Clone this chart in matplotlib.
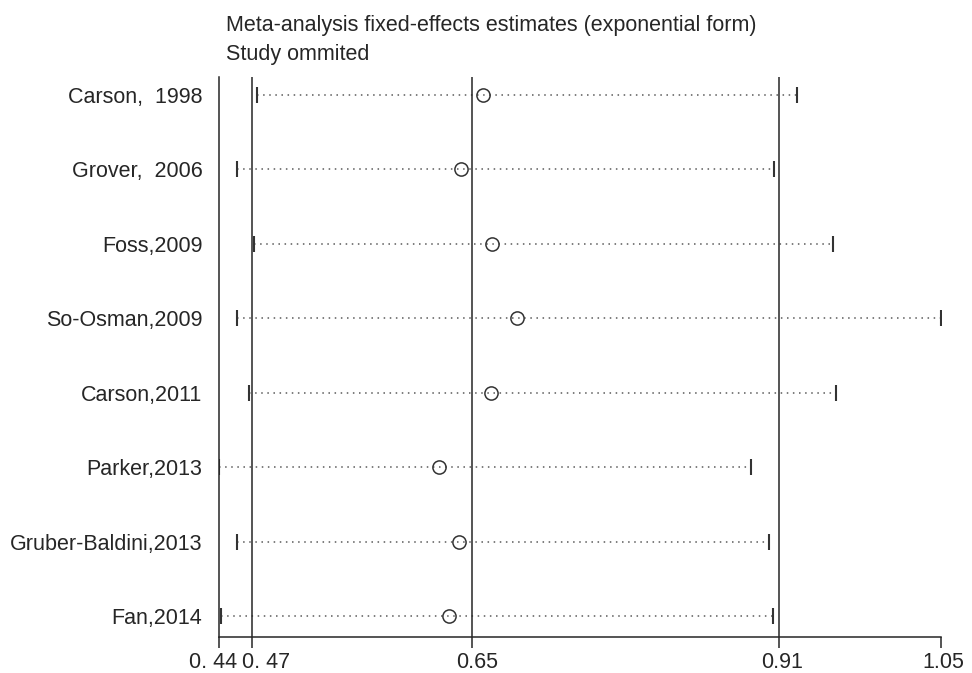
# Influence analysis: fixed-effects estimate with each study omitted in turn
import matplotlib.pyplot as plt
import numpy as np
from matplotlib.transforms import ScaledTranslation

plt.rcParams['font.family'] = ['Liberation Sans', 'DejaVu Sans']

studies = ["Carson,  1998", "Grover,  2006", "Foss,2009", "So-Osman,2009",
           "Carson,2011", "Parker,2013", "Gruber-Baldini,2013", "Fan,2014"]
estimate = [0.6629, 0.6443, 0.6708, 0.6922, 0.6699, 0.6257, 0.6431, 0.6347]
lower = [0.4724, 0.4555, 0.4693, 0.4555, 0.4656, 0.4400, 0.4555, 0.4419]
upper = [0.9283, 0.9089, 0.9588, 1.0503, 0.9613, 0.8900, 0.9047, 0.9086]

# overall estimate and its confidence limits (vertical lines)
overall = [0.4679, 0.6536, 0.9136]
axis_ticks = [0.44, 0.4679, 0.6536, 0.9136, 1.0503]
tick_labels = ["0. 44", "0. 47", "0.65", "0.91", "1.05"]

ink = '#262626'

fig = plt.figure(figsize=(9.72, 6.73), dpi=100)
ax = fig.add_axes([219 / 972, 1 - 637 / 673, 722 / 972, 560 / 673])

y = np.arange(1, len(studies) + 1)
ax.hlines(y, lower, upper, colors='#5a5a5a', linestyles=(0, (1, 3)), lw=1.1)
ax.plot(lower, y, '|', ms=11.5, mew=1.5, color='#333333')
ax.plot(upper, y, '|', ms=11.5, mew=1.5, color='#333333')
ax.plot(estimate, y, 'o', ms=9.5, mfc='none', mec='#333333', mew=1.1)
for v in overall:
    ax.axvline(v, color=ink, lw=1.1)

ax.set_xlim(axis_ticks[0], axis_ticks[-1])
ax.set_ylim(8.28, 0.76)
for s in ['top', 'right']:
    ax.spines[s].set_visible(False)
for s in ['left', 'bottom']:
    ax.spines[s].set_color(ink)
    ax.spines[s].set_linewidth(1.1)

ax.set_yticks(y, studies)
ax.tick_params(axis='y', length=0, pad=12, labelsize=15.5, labelcolor=ink)
ax.set_xticks(axis_ticks, tick_labels)
ax.tick_params(axis='x', length=8, width=1.1, color=ink, pad=3, labelsize=15.5, labelcolor=ink)

# nudge the crowded labels apart like the original
for lab, dx in zip(ax.get_xticklabels(), [-6, 14, 5, 3, 2]):
    lab.set_transform(lab.get_transform() + ScaledTranslation(dx / 100, 0, fig.dpi_scale_trans))

fig.text(226 / 972, 1 - 31.5 / 673, "Meta-analysis fixed-effects estimates (exponential form)",
         fontsize=15.5, color=ink, va='baseline')
fig.text(226 / 972, 1 - 60 / 673, "Study ommited", fontsize=15.5, color=ink, va='baseline')

fig.savefig('out.png', dpi=100)
